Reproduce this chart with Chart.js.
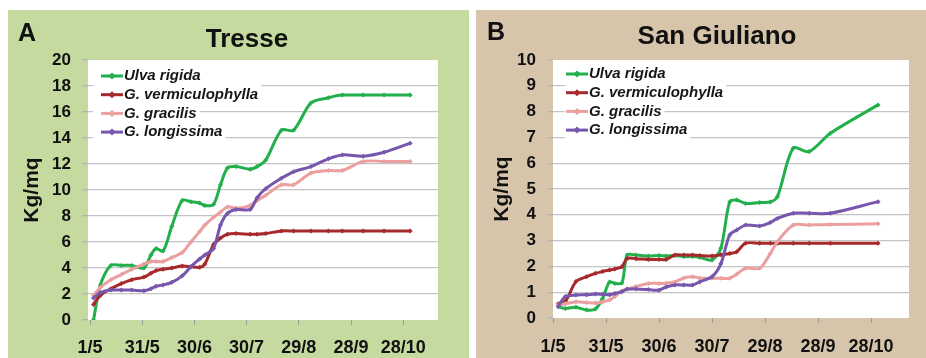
<!DOCTYPE html>
<html>
<head>
<meta charset="utf-8">
<script src="https://cdn.jsdelivr.net/npm/chart.js@4.4.0/dist/chart.umd.min.js"></script>
<style>
  html, body { margin: 0; padding: 0; background: #fff; }
  body { width: 926px; height: 358px; position: relative; overflow: hidden; font-family: Arial, "Liberation Sans", sans-serif; }
  .panel { position: absolute; top: 10px; height: 348px; }
  #panelA { left: 8px; width: 461px; background: #c4da9e; }
  #panelB { left: 476px; width: 450px; background: #d6c5aa; }
  .panel canvas { position: absolute; left: 0; top: 0; }
  .letter { position: absolute; font-weight: bold; font-size: 25px; line-height: 1; color: #111; }
  .title { position: absolute; font-weight: bold; font-size: 26px; line-height: 1; color: #111; transform: translateX(-50%); white-space: nowrap; }
</style>
</head>
<body>
<div class="panel" id="panelA">
  <canvas id="chartA" width="461" height="348"></canvas>
  <div class="letter" style="left:10px; top:10px;">A</div>
  <div class="title" style="left:239px; top:15px;">Tresse</div>
</div>
<div class="panel" id="panelB">
  <canvas id="chartB" width="450" height="348"></canvas>
  <div class="letter" style="left:11px; top:9px;">B</div>
  <div class="title" style="left:241px; top:12px;">San Giuliano</div>
</div>
<script>
// x axis: days counted from 1/5
const xTickDays = [0, 30, 60, 90, 120, 150, 180];
const xTickLabels = ['1/5', '31/5', '30/6', '30/7', '29/8', '28/9', '28/10'];
const seriesNames = ['Ulva rigida', 'G. vermiculophylla', 'G. gracilis', 'G. longissima'];
const seriesColors = ['#21b04b', '#a62a2c', '#eb9f9f', '#7657ad'];

// Tresse
const daysA = [2, 6, 12, 18, 24, 31, 35, 38, 42, 47, 53, 58, 63, 66, 71, 75, 79, 84, 92, 96, 101, 110, 117, 127, 137, 145, 157, 169, 184];
const ulvaA = [0, 2.7, 4.2, 4.2, 4.2, 4.0, 5.0, 5.5, 5.3, 7.2, 9.2, 9.1, 9.0, 8.8, 8.9, 10.4, 11.7, 11.8, 11.6, 11.8, 12.3, 14.6, 14.6, 16.7, 17.1, 17.3, 17.3, 17.3, 17.3];
const vermA = [1.2, 1.9, 2.4, 2.8, 3.1, 3.3, 3.6, 3.8, 3.9, 4.0, 4.15, 4.1, 4.05, 4.3, 5.8, 6.3, 6.6, 6.65, 6.6, 6.6, 6.65, 6.85, 6.85, 6.85, 6.85, 6.85, 6.85, 6.85, 6.85];
const gracA = [1.9, 2.5, 3.1, 3.5, 3.9, 4.3, 4.5, 4.5, 4.5, 4.8, 5.2, 6.0, 6.8, 7.3, 7.9, 8.3, 8.7, 8.6, 8.8, 9.2, 9.6, 10.4, 10.4, 11.3, 11.5, 11.5, 12.2, 12.2, 12.2];
const longA = [1.7, 2.1, 2.3, 2.3, 2.3, 2.25, 2.4, 2.6, 2.7, 2.9, 3.4, 4.1, 4.7, 5.0, 5.5, 7.3, 8.2, 8.5, 8.5, 9.4, 10.1, 10.9, 11.4, 11.8, 12.4, 12.7, 12.6, 12.9, 13.6];

// San Giuliano
const daysB = [3, 7, 13, 19, 24, 28, 32, 35, 39, 42, 47, 54, 60, 64, 69, 74, 79, 83, 90, 95, 100, 104, 109, 117, 123, 127, 136, 145, 157, 184];
const ulvaB = [0.44, 0.37, 0.42, 0.31, 0.35, 0.75, 1.4, 1.34, 1.36, 2.44, 2.44, 2.4, 2.42, 2.4, 2.42, 2.38, 2.38, 2.35, 2.25, 2.7, 4.5, 4.57, 4.44, 4.48, 4.5, 4.7, 6.58, 6.45, 7.16, 8.26];
const vermB = [0.55, 0.65, 1.41, 1.6, 1.73, 1.8, 1.86, 1.9, 1.99, 2.31, 2.3, 2.27, 2.27, 2.27, 2.44, 2.44, 2.44, 2.42, 2.4, 2.45, 2.5, 2.57, 2.9, 2.9, 2.9, 2.9, 2.9, 2.9, 2.9, 2.9];
const gracB = [0.5, 0.55, 0.63, 0.6, 0.58, 0.62, 0.7, 0.83, 1.05, 1.12, 1.22, 1.34, 1.34, 1.35, 1.4, 1.55, 1.6, 1.55, 1.54, 1.54, 1.54, 1.7, 1.93, 1.93, 2.5, 2.96, 3.6, 3.6, 3.62, 3.65];
const longB = [0.45, 0.83, 0.89, 0.9, 0.93, 0.92, 0.9, 0.95, 1.02, 1.12, 1.12, 1.1, 1.08, 1.2, 1.28, 1.28, 1.28, 1.4, 1.6, 2.1, 3.22, 3.41, 3.6, 3.57, 3.7, 3.86, 4.06, 4.06, 4.06, 4.51];

Chart.defaults.font.family = 'Arial, "Liberation Sans", sans-serif';

// white plot area
const plotBg = {
    id: 'plotBg',
    beforeDraw(chart) {
        const {ctx, chartArea: {left, top, width, height}} = chart;
        ctx.save();
        ctx.fillStyle = '#fff';
        ctx.fillRect(left, top, width, height);
        ctx.restore();
    }
};

// legend drawn inside the plot, top-left
const inLegend = {
    id: 'inLegend',
    beforeDatasetsDraw(chart, args, opts) {
        const {ctx, chartArea} = chart;
        const left = chartArea.left;
        ctx.save();
        ctx.font = 'italic bold 15px Arial, "Liberation Sans", sans-serif';
        ctx.textBaseline = 'middle';
        const rows = chart.data.datasets.map((ds, i) => ({
            ds, y: chartArea.top + opts.top + i * opts.step
        }));
        // white boxes hide gridlines behind the legend text
        ctx.fillStyle = '#fff';
        rows.forEach(r => {
            const w = ctx.measureText(r.ds.label).width;
            ctx.fillRect(left + opts.boxLeft, r.y - 10, 36 - opts.boxLeft + w + 3, 20);
        });
        rows.forEach(r => {
            const c = r.ds.borderColor;
            ctx.strokeStyle = c;
            ctx.lineWidth = 3;
            ctx.beginPath();
            ctx.moveTo(left + 13, r.y);
            ctx.lineTo(left + 35, r.y);
            ctx.stroke();
            ctx.fillStyle = c;
            ctx.beginPath();
            ctx.moveTo(left + 24, r.y - 3.5);
            ctx.lineTo(left + 27.5, r.y);
            ctx.lineTo(left + 24, r.y + 3.5);
            ctx.lineTo(left + 20.5, r.y);
            ctx.closePath();
            ctx.fill();
            ctx.fillStyle = '#161616';
            ctx.fillText(r.ds.label, left + 36, r.y);
        });
        ctx.restore();
    }
};

function makeChart(id, o) {
    const datasets = o.series.map((vals, i) => ({
        label: seriesNames[i],
        data: vals.map((v, j) => ({x: o.days[j], y: v})),
        borderColor: seriesColors[i],
        backgroundColor: seriesColors[i],
        borderWidth: 3,
        pointStyle: 'rectRot',
        pointRadius: 2.5,
        pointBorderWidth: 0,
        tension: 0.3,
        order: 3 - i
    }));

    return new Chart(document.getElementById(id), {
        type: 'line',
        data: { datasets },
        options: {
            responsive: false,
            animation: false,
            layout: { padding: { top: 50, right: o.padRight, left: 0, bottom: 0 } },
            plugins: {
                legend: { display: false },
                tooltip: { enabled: false },
                inLegend: { top: o.legTop, step: 18.7, boxLeft: o.boxLeft }
            },
            scales: {
                x: {
                    type: 'linear',
                    min: o.xMin,
                    max: o.xMax,
                    afterBuildTicks: s => { s.ticks = xTickDays.map(v => ({value: v})); },
                    afterFit: s => { s.height = o.xAxisHeight; },
                    ticks: {
                        autoSkip: false,
                        maxRotation: 0,
                        padding: o.xPad,
                        color: '#111',
                        font: { size: 18, weight: 'bold' },
                        callback: (v, i) => xTickLabels[i]
                    },
                    grid: { drawOnChartArea: false, drawTicks: true, tickLength: 5, tickColor: '#9c9c9c' },
                    border: { display: false }
                },
                y: {
                    min: 0,
                    max: o.yMax,
                    afterFit: s => { s.width = o.yAxisWidth; },
                    ticks: {
                        stepSize: o.yStep,
                        padding: 11,
                        color: '#111',
                        font: { size: 17, weight: 'bold' }
                    },
                    grid: {
                        color: ctx => (ctx.tick.value === 0 || ctx.tick.value === o.yMax) ? 'rgba(0,0,0,0)' : '#c4c4c4',
                        lineWidth: 1.3,
                        tickLength: 6,
                        tickColor: '#b4b4b4'
                    },
                    border: { display: false },
                    title: {
                        display: true,
                        text: 'Kg/mq',
                        color: '#111',
                        font: { size: 21, weight: 'bold' },
                        padding: { top: o.titlePad, bottom: 0 }
                    }
                }
            }
        },
        plugins: [plotBg, inLegend]
    });
}

makeChart('chartA', {
    days: daysA,
    series: [ulvaA, vermA, gracA, longA],
    xMin: -1.15, xMax: 200,
    yMax: 20, yStep: 2,
    yAxisWidth: 80, xAxisHeight: 38, padRight: 31,
    xPad: 12, titlePad: 11.4,
    legTop: 16, boxLeft: 5
});

makeChart('chartB', {
    days: daysB,
    series: [ulvaB, vermB, gracB, longB],
    xMin: 0, xMax: 201.5,
    yMax: 10, yStep: 1,
    yAxisWidth: 77, xAxisHeight: 40, padRight: 17,
    xPad: 13.5, titlePad: 13.4,
    legTop: 14, boxLeft: 12
});
</script>
</body>
</html>
